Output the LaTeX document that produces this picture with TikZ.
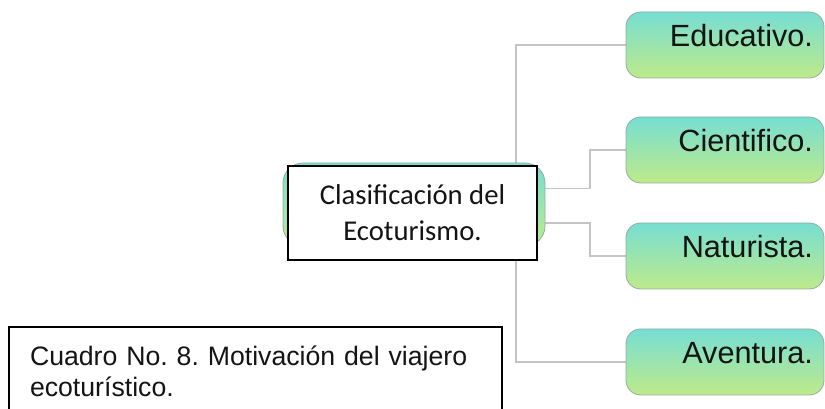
\documentclass[tikz,border=0pt]{standalone}
\usepackage{fontspec}
\setmainfont{Liberation Sans}
\newfontfamily\ecocorefont{Carlito}
\usetikzlibrary{backgrounds}
\frenchspacing

\definecolor{ecotext}{RGB}{20,20,20}
\definecolor{ecoline}{RGB}{196,196,196}
\definecolor{ecotop}{RGB}{118,222,210}
\definecolor{ecobottom}{RGB}{190,234,138}
\definecolor{ecoedge}{RGB}{150,172,160}

\begin{document}
\begin{tikzpicture}[
  x=0.75pt,
  y=-0.75pt,
  every node/.style={inner sep=0pt, outer sep=0pt},
  ecoConn/.style={draw=ecoline, line width=1.1pt},
  ecoBox/.style={draw=ecoedge, line width=0.6pt, top color=ecotop, bottom color=ecobottom,
    rounded corners=11pt, minimum width=148.5pt, minimum height=49.5pt,
    text width=132pt, align=right, text height=15pt, text depth=12pt,
    font=\fontsize{23}{23}\selectfont, text=ecotext},
  ecoBack/.style={draw=ecoedge, line width=0.6pt, top color=ecotop, bottom color=ecobottom,
    rounded corners=15pt, minimum width=196.5pt, minimum height=62.25pt},
  ecoCore/.style={draw=black, fill=white, line width=1.1pt, minimum width=186.75pt,
    minimum height=70.5pt, align=center, text=ecotext,
    font=\ecocorefont\fontsize{21.5}{27}\selectfont},
  ecoCaption/.style={draw=black, fill=white, line width=1.1pt, anchor=north west,
    minimum height=66pt, inner xsep=15.75pt, text width=338.25pt, align=left,
    text=ecotext, font=\fontsize{20}{23.5}\selectfont}
]

  \path[use as bounding box] (0,0) rectangle (825,409);

  % central box
  \node[ecoBack] (coreBack) at (414,204.5) {};
  \node[ecoCore] (core) at (412.5,213) {Clasificación del\\Ecoturismo.};

  % branches
  \node[ecoBox] (edu) at (725,45) {Educativo.};
  \node[ecoBox] (cie) at (725,150) {Cientifico.};
  \node[ecoBox] (nat) at (725,256) {Naturista.};
  \node[ecoBox] (ave) at (725,362) {Aventura.};

  \coordinate (trunk) at (516,0);

  \begin{scope}[on background layer]
    \draw[ecoConn] (edu.west) -- (edu.west -| trunk) -- (ave.west -| trunk) -- (ave.west);
    \draw[ecoConn] ([yshift=12pt]coreBack.east) -- ++(45,0) |- (cie.west);
    \draw[ecoConn] ([yshift=-14pt]coreBack.east) -- ++(45,0) |- (nat.west);
  \end{scope}

  \node[ecoCaption] (caption) at (9,327) {Cuadro No. 8. Motivación del viajero\\ecoturístico.};

\end{tikzpicture}
\end{document}
